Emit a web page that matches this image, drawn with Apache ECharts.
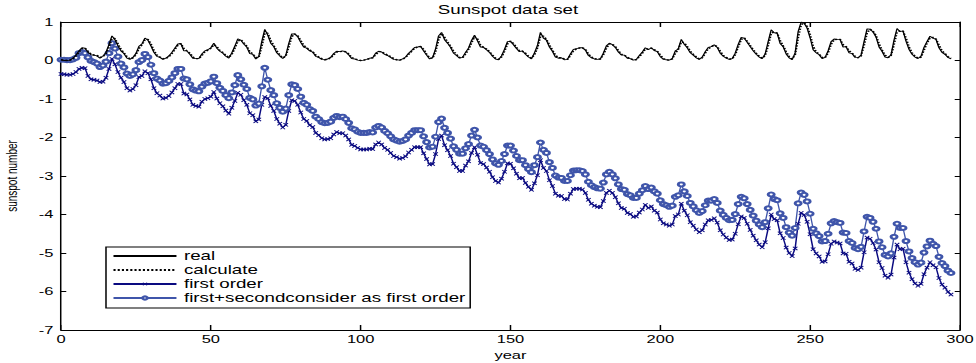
<!DOCTYPE html>
<html>
<head>
<meta charset="utf-8">
<script src="https://cdn.jsdelivr.net/npm/echarts@6/dist/echarts.min.js"></script>
<style>
html,body{margin:0;padding:0;background:#fff;overflow:hidden;}
#wrap{width:976px;height:363px;overflow:hidden;}
#chart{width:651px;height:363px;transform-origin:0 0;}
</style>
</head>
<body>
<div id="wrap"><div id="chart"></div></div>
<script>
// ---------- data ----------
const seriesNames = ['real', 'calculate', 'first order', 'first+secondconsider as first order'];
const xTicks = [0, 50, 100, 150, 200, 250, 300];
const yTicks = [-7, -6, -5, -4, -3, -2, -1, 0, 1];

const real = [
0.02,0.00,0.00,0.01,0.06,0.14,0.25,0.33,0.32,0.21,
0.15,0.14,0.12,0.06,0.11,0.21,0.41,0.64,0.54,0.38,
0.25,0.18,0.06,0.03,0.08,0.18,0.37,0.43,0.58,0.53,
0.38,0.21,0.11,0.08,0.03,0.06,0.12,0.21,0.32,0.43,
0.44,0.25,0.25,0.16,0.06,0.05,0.05,0.17,0.25,0.28,
0.33,0.45,0.32,0.24,0.19,0.11,0.06,0.20,0.37,0.56,
0.53,0.43,0.35,0.18,0.16,0.04,0.10,0.49,0.81,0.66,
0.45,0.36,0.20,0.12,0.05,0.13,0.44,0.69,0.69,0.62,
0.47,0.35,0.32,0.25,0.22,0.11,0.08,0.03,0.02,0.04,
0.08,0.18,0.24,0.23,0.25,0.22,0.15,0.05,0.04,0.01,
0.00,0.01,0.03,0.06,0.07,0.19,0.24,0.22,0.16,0.13,
0.08,0.03,0.02,0.01,0.04,0.09,0.19,0.26,0.34,0.35,
0.37,0.25,0.14,0.04,0.07,0.30,0.64,0.73,0.54,0.45,
0.34,0.19,0.13,0.06,0.08,0.21,0.32,0.52,0.66,0.51,
0.35,0.34,0.28,0.21,0.11,0.04,0.02,0.12,0.29,0.49,
0.50,0.41,0.31,0.23,0.25,0.16,0.09,0.04,0.20,0.39,
0.73,0.58,0.53,0.35,0.24,0.09,0.06,0.07,0.02,0.03,
0.17,0.29,0.31,0.33,0.33,0.27,0.13,0.07,0.04,0.03,
0.04,0.19,0.38,0.45,0.41,0.34,0.22,0.14,0.14,0.06,
0.05,0.01,0.03,0.13,0.22,0.33,0.28,0.33,0.26,0.23,
0.10,0.03,0.02,0.01,0.05,0.25,0.30,0.55,0.42,0.33,
0.20,0.14,0.07,0.03,0.09,0.23,0.34,0.36,0.41,0.34,
0.19,0.11,0.06,0.03,0.05,0.19,0.42,0.60,0.58,0.47,
0.36,0.25,0.16,0.09,0.05,0.17,0.49,0.80,0.72,0.71,
0.44,0.36,0.17,0.07,0.02,0.20,0.75,1.00,0.97,0.84,
0.59,0.28,0.20,0.15,0.05,0.08,0.25,0.49,0.56,0.55,
0.55,0.35,0.36,0.20,0.18,0.08,0.07,0.14,0.49,0.82,
0.81,0.74,0.61,0.35,0.24,0.09,0.07,0.15,0.53,0.83,
0.75,0.77,0.50,0.29,0.16,0.09,0.05,0.11,0.34,0.49,
0.63,0.58,0.55,0.33,0.21,0.16,0.08,0.04
];

const calculate = [
0.02,0.01,0.00,0.01,0.05,0.12,0.22,0.31,0.32,0.24,
0.17,0.14,0.13,0.08,0.10,0.18,0.35,0.57,0.57,0.43,
0.29,0.20,0.10,0.04,0.07,0.15,0.31,0.41,0.54,0.55,
0.43,0.26,0.14,0.09,0.05,0.05,0.10,0.18,0.29,0.40,
0.44,0.31,0.25,0.19,0.09,0.05,0.05,0.13,0.23,0.27,
0.32,0.41,0.36,0.26,0.21,0.13,0.08,0.16,0.32,0.50,
0.54,0.46,0.37,0.23,0.17,0.08,0.08,0.37,0.71,0.71,
0.51,0.39,0.25,0.14,0.07,0.11,0.35,0.62,0.69,0.64,
0.52,0.39,0.33,0.27,0.23,0.14,0.09,0.05,0.02,0.03,
0.07,0.15,0.22,0.23,0.24,0.23,0.17,0.08,0.04,0.02,
0.00,0.01,0.02,0.05,0.07,0.15,0.23,0.23,0.18,0.14,
0.10,0.05,0.02,0.01,0.03,0.08,0.16,0.24,0.32,0.35,
0.36,0.29,0.17,0.07,0.06,0.23,0.54,0.70,0.60,0.48,
0.37,0.24,0.15,0.08,0.07,0.17,0.29,0.46,0.62,0.56,
0.40,0.34,0.30,0.23,0.14,0.06,0.03,0.09,0.24,0.43,
0.50,0.44,0.34,0.25,0.24,0.19,0.11,0.06,0.15,0.33,
0.63,0.63,0.55,0.40,0.27,0.14,0.07,0.07,0.04,0.03,
0.13,0.25,0.30,0.32,0.33,0.29,0.17,0.09,0.05,0.03,
0.04,0.15,0.32,0.43,0.42,0.36,0.26,0.16,0.14,0.08,
0.05,0.02,0.02,0.10,0.19,0.30,0.30,0.32,0.28,0.24,
0.14,0.05,0.02,0.01,0.04,0.19,0.29,0.48,0.46,0.36,
0.24,0.16,0.09,0.04,0.07,0.19,0.31,0.35,0.40,0.36,
0.24,0.13,0.08,0.04,0.04,0.15,0.35,0.55,0.59,0.50,
0.39,0.28,0.19,0.11,0.06,0.13,0.39,0.71,0.74,0.71,
0.52,0.38,0.23,0.10,0.04,0.15,0.59,0.93,0.98,0.88,
0.67,0.37,0.22,0.17,0.08,0.07,0.20,0.42,0.54,0.55,
0.55,0.41,0.36,0.25,0.19,0.11,0.07,0.12,0.39,0.72,
0.81,0.76,0.65,0.43,0.27,0.14,0.08,0.13,0.42,0.74,
0.77,0.76,0.58,0.35,0.20,0.11,0.06,0.09,0.27,0.45,
0.59,0.60,0.56,0.40,0.25,0.18,0.10,0.05
];

const firstOrder = [
-0.35,-0.36,-0.37,-0.37,-0.35,-0.30,-0.22,-0.19,-0.20,-0.40,
-0.49,-0.50,-0.52,-0.56,-0.55,-0.45,-0.22,0.04,-0.10,-0.30,
-0.45,-0.56,-0.72,-0.78,-0.74,-0.64,-0.43,-0.40,-0.28,-0.33,
-0.49,-0.72,-0.85,-0.91,-0.99,-0.97,-0.92,-0.83,-0.72,-0.61,
-0.61,-0.86,-0.88,-1.01,-1.15,-1.18,-1.20,-1.07,-1.00,-0.98,
-0.94,-0.82,-0.99,-1.11,-1.19,-1.30,-1.38,-1.23,-1.05,-0.84,
-0.89,-1.03,-1.15,-1.37,-1.42,-1.58,-1.53,-1.15,-0.95,-0.98,
-1.18,-1.31,-1.52,-1.64,-1.74,-1.67,-1.31,-1.03,-1.05,-1.15,
-1.35,-1.52,-1.57,-1.68,-1.73,-1.88,-1.94,-2.02,-2.05,-2.04,
-2.02,-1.92,-1.86,-1.89,-1.89,-1.95,-2.05,-2.19,-2.22,-2.27,
-2.31,-2.31,-2.31,-2.29,-2.30,-2.18,-2.13,-2.18,-2.27,-2.32,
-2.40,-2.48,-2.51,-2.55,-2.53,-2.49,-2.39,-2.32,-2.25,-2.25,
-2.25,-2.41,-2.56,-2.70,-2.69,-2.43,-2.04,-1.95,-2.20,-2.33,
-2.48,-2.68,-2.77,-2.87,-2.87,-2.73,-2.62,-2.40,-2.25,-2.45,
-2.66,-2.69,-2.78,-2.89,-3.03,-3.13,-3.17,-3.07,-2.89,-2.67,
-2.68,-2.80,-2.94,-3.06,-3.05,-3.18,-3.28,-3.36,-3.19,-2.98,
-2.59,-2.79,-2.87,-3.11,-3.26,-3.46,-3.51,-3.52,-3.60,-3.61,
-3.46,-3.34,-3.33,-3.33,-3.35,-3.44,-3.62,-3.72,-3.77,-3.80,
-3.81,-3.65,-3.44,-3.38,-3.44,-3.55,-3.71,-3.83,-3.85,-3.96,
-3.99,-4.06,-4.05,-3.95,-3.87,-3.75,-3.83,-3.79,-3.90,-3.95,
-4.13,-4.23,-4.26,-4.29,-4.26,-4.04,-4.00,-3.72,-3.90,-4.02,
-4.20,-4.29,-4.39,-4.46,-4.41,-4.26,-4.15,-4.14,-4.10,-4.21,
-4.41,-4.52,-4.60,-4.66,-4.65,-4.50,-4.25,-4.05,-4.09,-4.24,
-4.40,-4.55,-4.67,-4.78,-4.85,-4.72,-4.36,-4.00,-4.12,-4.15,
-4.49,-4.61,-4.86,-5.00,-5.08,-4.88,-4.24,-3.96,-4.01,-4.19,
-4.51,-4.90,-5.01,-5.09,-5.23,-5.22,-5.03,-4.76,-4.70,-4.73,
-4.75,-5.01,-5.02,-5.23,-5.27,-5.41,-5.44,-5.38,-4.98,-4.60,
-4.63,-4.74,-4.91,-5.24,-5.39,-5.59,-5.64,-5.56,-5.12,-4.78,
-4.90,-4.89,-5.24,-5.51,-5.68,-5.79,-5.85,-5.80,-5.55,-5.38,
-5.24,-5.32,-5.37,-5.65,-5.82,-5.90,-6.01,-6.08
];

const firstSecond = [
0.02,0.02,0.01,0.01,0.03,0.07,0.19,0.22,0.19,0.08,
-0.01,-0.04,-0.08,-0.17,-0.13,-0.03,0.19,0.45,0.31,0.10,
-0.08,-0.18,-0.34,-0.40,-0.36,-0.25,-0.04,0.01,0.17,0.09,
-0.11,-0.33,-0.47,-0.52,-0.60,-0.59,-0.53,-0.44,-0.33,-0.22,
-0.22,-0.47,-0.49,-0.62,-0.75,-0.78,-0.80,-0.68,-0.60,-0.58,
-0.54,-0.42,-0.59,-0.71,-0.79,-0.90,-0.98,-0.83,-0.64,-0.38,
-0.49,-0.63,-0.74,-0.97,-1.01,-1.17,-1.12,-0.67,-0.19,-0.50,
-0.77,-0.90,-1.11,-1.23,-1.33,-1.25,-0.90,-0.62,-0.64,-0.74,
-0.94,-1.10,-1.15,-1.26,-1.31,-1.46,-1.52,-1.60,-1.63,-1.62,
-1.59,-1.49,-1.44,-1.47,-1.46,-1.52,-1.62,-1.76,-1.79,-1.85,
-1.88,-1.88,-1.88,-1.86,-1.87,-1.74,-1.70,-1.74,-1.83,-1.89,
-1.97,-2.05,-2.08,-2.11,-2.09,-2.05,-1.95,-1.88,-1.81,-1.81,
-1.81,-1.97,-2.12,-2.26,-2.24,-1.98,-1.60,-1.51,-1.75,-1.88,
-2.03,-2.23,-2.32,-2.42,-2.42,-2.28,-2.17,-1.95,-1.80,-2.00,
-2.21,-2.24,-2.33,-2.43,-2.57,-2.67,-2.71,-2.61,-2.43,-2.21,
-2.21,-2.34,-2.48,-2.59,-2.59,-2.72,-2.82,-2.90,-2.72,-2.51,
-2.13,-2.32,-2.40,-2.64,-2.79,-2.99,-3.04,-3.05,-3.13,-3.13,
-2.98,-2.86,-2.85,-2.85,-2.87,-2.96,-3.15,-3.24,-3.29,-3.32,
-3.33,-3.17,-2.96,-2.89,-2.96,-3.06,-3.22,-3.34,-3.36,-3.47,
-3.50,-3.57,-3.57,-3.46,-3.37,-3.26,-3.34,-3.30,-3.40,-3.46,
-3.63,-3.73,-3.76,-3.80,-3.77,-3.54,-3.50,-3.22,-3.40,-3.52,
-3.70,-3.79,-3.89,-3.96,-3.91,-3.76,-3.64,-3.64,-3.60,-3.70,
-3.90,-4.01,-4.09,-4.15,-4.14,-3.99,-3.73,-3.54,-3.58,-3.73,
-3.88,-4.03,-4.16,-4.26,-4.33,-4.20,-3.84,-3.48,-3.60,-3.63,
-3.97,-4.09,-4.33,-4.47,-4.55,-4.35,-3.71,-3.43,-3.49,-3.66,
-3.98,-4.37,-4.49,-4.56,-4.70,-4.69,-4.50,-4.23,-4.17,-4.20,
-4.22,-4.47,-4.48,-4.69,-4.74,-4.87,-4.90,-4.84,-4.44,-4.06,
-4.09,-4.19,-4.37,-4.70,-4.85,-5.05,-5.09,-5.01,-4.58,-4.24,
-4.35,-4.35,-4.69,-4.96,-5.13,-5.24,-5.30,-5.25,-4.99,-4.83,
-4.68,-4.76,-4.82,-5.10,-5.26,-5.34,-5.46,-5.52
];

// sample index (x position = sample number)
const sampleIndex = real.map((_, i) => i);

// ---------- chart ----------
const SX = 976 / 651; // horizontal stretch of the original figure
const el = document.getElementById('chart');
el.style.transform = 'scaleX(' + SX + ')';
const FONT = 'Liberation Sans, Arial, Helvetica, sans-serif';
const pairs = arr => arr.map((v, i) => [sampleIndex[i], v]);
const crossPath = 'path://M0,1.5L1.5,0L5,3.5L8.5,0L10,1.5L6.5,5L10,8.5L8.5,10L5,6.5L1.5,10L0,8.5L3.5,5Z';
const NAVY = '#0a0a80';
const BLUE = '#3f55aa';

const chart = echarts.init(el, null, { renderer: 'svg' });

const axisCommon = {
  type: 'value',
  axisLine: { show: true, onZero: false, lineStyle: { color: '#000', width: 1 } },
  splitLine: { show: false }
};

chart.setOption({
  animation: false,
  backgroundColor: '#fff',
  textStyle: { fontFamily: FONT },
  title: {
    text: 'Sunspot data set',
    left: 292, top: 3, padding: 0,
    textStyle: { fontSize: 12.5, fontWeight: 'normal', color: '#000', fontFamily: FONT }
  },
  grid: { left: 40.7, right: 10.7, top: 22, bottom: 33, containLabel: false, outerBoundsMode: 'none' },
  legend: {
    orient: 'vertical',
    left: 70.7, top: 247,
    padding: [2, 3, 3, 4],
    itemGap: 0,
    itemWidth: 42,
    itemHeight: 4,
    borderColor: '#000', borderWidth: 1,
    backgroundColor: '#fff',
    selectedMode: false,
    textStyle: { fontSize: 12.5, color: '#000', fontFamily: FONT, lineHeight: 14 },
    data: [
      { name: seriesNames[0], itemStyle: { opacity: 0 } },
      { name: seriesNames[1], itemStyle: { opacity: 0 } },
      { name: seriesNames[2] },
      { name: seriesNames[3] }
    ]
  },
  xAxis: [
    Object.assign({}, axisCommon, {
      min: xTicks[0], max: xTicks[xTicks.length - 1], interval: xTicks[1] - xTicks[0],
      position: 'bottom',
      axisTick: { show: true, inside: true, length: 5, lineStyle: { color: '#000' } },
      axisLabel: { color: '#000', fontSize: 11, fontFamily: FONT, margin: 4 },
      name: 'year', nameLocation: 'middle', nameGap: 17,
      nameTextStyle: { color: '#000', fontSize: 11, fontFamily: FONT }
    }),
    Object.assign({}, axisCommon, {
      min: xTicks[0], max: xTicks[xTicks.length - 1], interval: xTicks[1] - xTicks[0],
      position: 'top',
      axisTick: { show: true, inside: true, length: 5, lineStyle: { color: '#000' } },
      axisLabel: { show: false }
    })
  ],
  yAxis: [
    Object.assign({}, axisCommon, {
      min: yTicks[0], max: yTicks[yTicks.length - 1], interval: yTicks[1] - yTicks[0],
      position: 'left',
      axisTick: { show: true, inside: true, length: 3.5, lineStyle: { color: '#000' } },
      axisLabel: { color: '#000', fontSize: 11, fontFamily: FONT, margin: 5 },
      name: 'sunspot number', nameLocation: 'middle', nameGap: 28, nameRotate: 90,
      nameTextStyle: { color: '#000', fontSize: 10, fontFamily: FONT }
    }),
    Object.assign({}, axisCommon, {
      min: yTicks[0], max: yTicks[yTicks.length - 1], interval: yTicks[1] - yTicks[0],
      position: 'right',
      axisTick: { show: true, inside: true, length: 3.5, lineStyle: { color: '#000' } },
      axisLabel: { show: false }
    })
  ],
  series: [
    {
      name: seriesNames[0], type: 'line', data: pairs(real),
      symbol: 'none', color: '#000',
      lineStyle: { color: '#000', width: 0.9 }, z: 3
    },
    {
      name: seriesNames[1], type: 'line', data: pairs(calculate),
      symbol: 'none', color: '#000',
      lineStyle: { color: '#000', width: 1.4, type: [1.4, 1.4] }, z: 3
    },
    {
      name: seriesNames[2], type: 'line', data: pairs(firstOrder),
      symbol: crossPath, symbolSize: [3.6, 4], showSymbol: true, showAllSymbol: true,
      color: NAVY,
      itemStyle: { color: NAVY },
      lineStyle: { color: NAVY, width: 1 }, z: 2
    },
    {
      name: seriesNames[3], type: 'line', data: pairs(firstSecond),
      symbol: 'emptyCircle', symbolSize: 4, showSymbol: true, showAllSymbol: true,
      color: BLUE,
      itemStyle: { color: BLUE, borderColor: BLUE, borderWidth: 0.7 },
      lineStyle: { color: BLUE, width: 0.9 }, z: 2
    }
  ]
});
</script>
</body>
</html>
